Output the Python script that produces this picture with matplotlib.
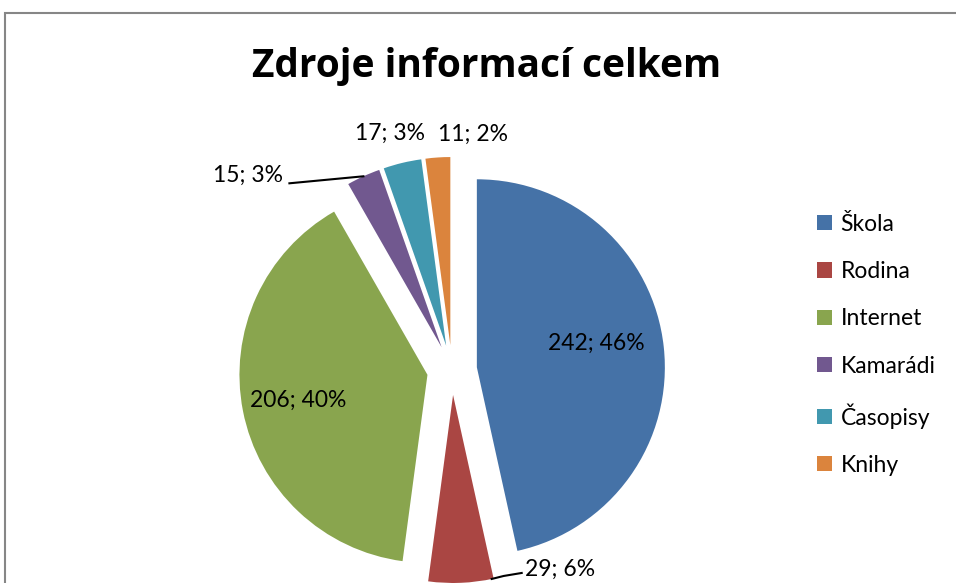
import numpy as np
import matplotlib.pyplot as plt
from matplotlib.patches import Rectangle

plt.rcParams['font.family'] = ['Lato', 'DejaVu Sans']

# data
categories = ['Škola', 'Rodina', 'Internet', 'Kamarádi', 'Časopisy', 'Knihy']
counts = [242, 29, 206, 15, 17, 11]
percents = ['46%', '6%', '40%', '3%', '3%', '2%']
colors = ['#4572A7', '#AA4643', '#89A54E', '#71588F', '#4198AF', '#DB843D']

W, H = 956, 583
fig = plt.figure(figsize=(W / 100, H / 100), dpi=100)
fig.patch.set_facecolor('white')

# axes in pixel coordinates (y up)
ax = fig.add_axes([0, 0, 1, 1])

cx, cy = 452, H - 370
R = 188
gap = 25  # explode distance in px

wedges, _ = ax.pie(counts, colors=colors, startangle=90, counterclock=False,
                   center=(cx, cy), radius=R, explode=[gap] * len(counts),
                   wedgeprops=dict(linewidth=0), frame=True)
ax.set_xlim(0, W)
ax.set_ylim(0, H)
ax.set_aspect('equal')
ax.axis('off')

# chart frame
ax.add_patch(Rectangle((5, -20), W + 20, H - 13 + 20, fill=False,
                       edgecolor='#868686', linewidth=1.5))

labels = [f'{c}; {p}' for c, p in zip(counts, percents)]
fs = 16.5


def arc_pt(w, ang, r=R):
    a = np.deg2rad(ang)
    return w.center[0] + r * np.cos(a), w.center[1] + r * np.sin(a)


def mid(w):
    return (w.theta1 + w.theta2) / 2


# inside labels: Škola, Internet
tx, ty = arc_pt(wedges[0], mid(wedges[0]), 0.64 * R)
ax.text(tx, ty + 11, labels[0], ha='center', va='center', fontsize=fs)
tx, ty = arc_pt(wedges[2], mid(wedges[2]), 0.70 * R)
ax.text(tx, ty, labels[2], ha='center', va='center', fontsize=fs)

# Rodina
w = wedges[1]
px, py = arc_pt(w, w.theta1 + 0.97 * (w.theta2 - w.theta1))
ax.plot([px, px + 12, px + 30], [py, py + 3, py + 6], color='black', lw=1.5)
ax.text(px + 33, py + 10, labels[1], ha='left', va='center', fontsize=fs)

# Kamarádi
w = wedges[3]
px, py = arc_pt(w, mid(w))
ax.plot([px, px - 74], [py, py - 7], color='black', lw=1.5)
ax.text(px - 80, py + 1, labels[3], ha='right', va='center', fontsize=fs)

# Časopisy, Knihy
w = wedges[4]
px, py = arc_pt(w, mid(w))
ax.text(px - 12, py + 30, labels[4], ha='center', va='center', fontsize=fs)
w = wedges[5]
px, py = arc_pt(w, mid(w))
ax.text(px + 35, py + 23, labels[5], ha='center', va='center', fontsize=fs)

# title
ax.text(487, H - 66, 'Zdroje informací celkem', ha='center', va='center',
        fontsize=28, fontweight='bold', family=['Open Sans', 'DejaVu Sans'])

# legend
handles = [Rectangle((0, 0), 1, 1, facecolor=c, edgecolor='none') for c in colors]
leg = ax.legend(handles, categories, loc='upper left',
                bbox_to_anchor=(796 / W, 1 - 193 / H), frameon=False,
                fontsize=16.5, handlelength=0.65, handleheight=0.65,
                handletextpad=0.4, labelspacing=1.15)

fig.savefig('out.png', dpi=100)
